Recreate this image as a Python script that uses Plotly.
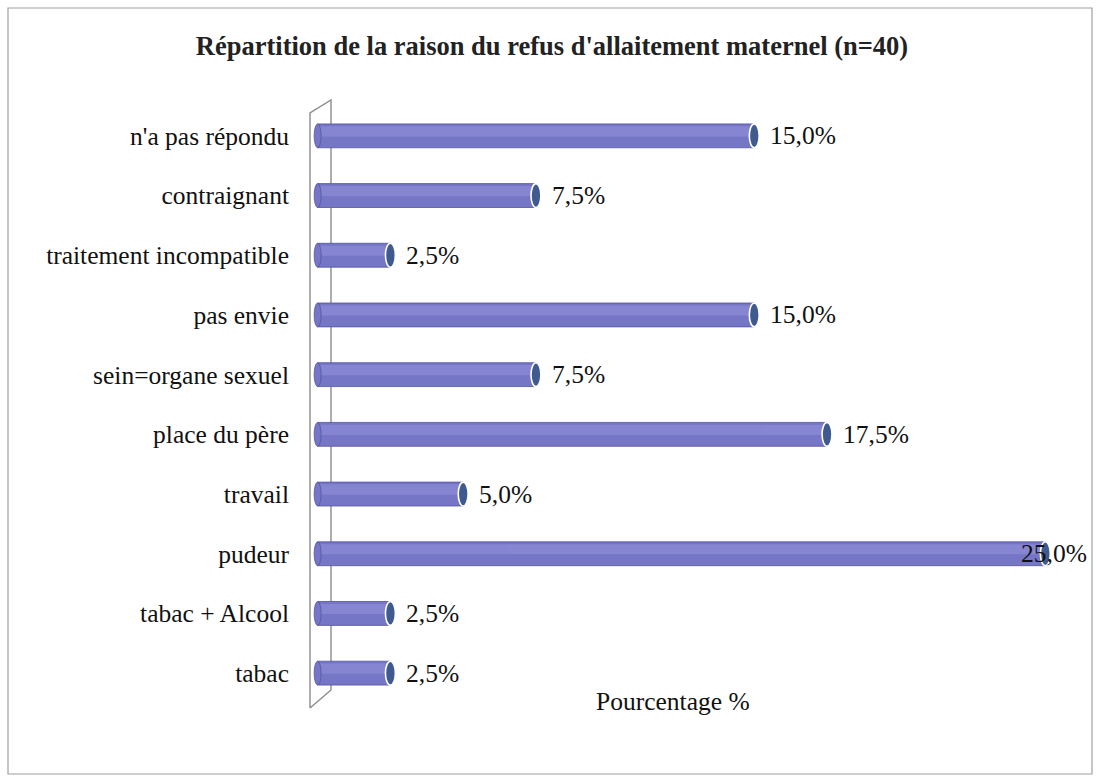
import plotly.graph_objects as go

# Raisons du refus d'allaitement maternel (n=40), en %
categories = [
    "n'a pas répondu",
    "contraignant",
    "traitement incompatible",
    "pas envie",
    "sein=organe sexuel",
    "place du père",
    "travail",
    "pudeur",
    "tabac + Alcool",
    "tabac",
]
percentages = [15.0, 7.5, 2.5, 15.0, 7.5, 17.5, 5.0, 25.0, 2.5, 2.5]

title_text = "Répartition de la raison du refus d'allaitement maternel (n=40)"
axis_title = "Pourcentage %"

W, H = 1096, 776
X_MIN, X_MAX = -0.4, 26.5
ML, MR, MT, MB = 306, 7, 106, 73
plot_w = W - ML - MR
plot_h = H - MT - MB

SERIF = "Liberation Serif, Times New Roman, serif"
TXT = 25.5
BAR_BASE = "#7676C6"
BAR_LIGHT = "#9393DC"
BAR_EDGE = "#5454A0"
CAP_FILL = "#3E5A8E"


def px_x(v):
    return ML + (v - X_MIN) / (X_MAX - X_MIN) * plot_w


def paper_x(p):
    return (p - ML) / plot_w


def paper_y(p):
    return 1 - (p - MT) / plot_h


def fmt(v):
    return f"{v:.1f}".replace(".", ",") + "%"


ypos = list(range(len(categories)))

fig = go.Figure()

# cylinder body
fig.add_trace(go.Bar(
    x=percentages, y=ypos, orientation="h",
    width=0.40, offset=-0.20, base=0,
    marker=dict(color=BAR_BASE, line=dict(color=BAR_EDGE, width=0.8)),
    hoverinfo="skip", showlegend=False,
))
# soft highlight band along the upper side of each cylinder
fig.add_trace(go.Bar(
    x=percentages, y=ypos, orientation="h",
    width=0.17, offset=-0.16, base=0,
    marker=dict(color=BAR_LIGHT, line=dict(width=0)),
    opacity=0.55,
    hoverinfo="skip", showlegend=False,
))

shapes = []
# rounded start and elliptical end cap of each cylinder
for i, v in enumerate(percentages):
    shapes.append(dict(
        type="circle", xref="x", yref="y", layer="above",
        x0=-0.12, x1=0.12, y0=i - 0.20, y1=i + 0.20,
        fillcolor=BAR_BASE, line=dict(color=BAR_EDGE, width=0.8),
    ))
    shapes.append(dict(
        type="circle", xref="x", yref="y", layer="above",
        x0=v - 0.17, x1=v + 0.17, y0=i - 0.20, y1=i + 0.20,
        fillcolor=CAP_FILL, line=dict(color="white", width=1.6),
    ))

# 3D side wall behind the bars
wall_col = "#8C8C8C"
fx0, fx1 = paper_x(310), paper_x(331)
shapes.append(dict(
    type="path", xref="paper", yref="paper", layer="below",
    path=(f"M {fx0},{paper_y(708)} L {fx0},{paper_y(113)} L {fx1},{paper_y(100)} "
          f"L {fx1},{paper_y(690)} L {fx0},{paper_y(708)}"),
    line=dict(color=wall_col, width=1.4),
))

# outer frame of the chart
shapes.append(dict(
    type="rect", xref="paper", yref="paper", layer="below",
    x0=paper_x(8), x1=paper_x(1092), y0=paper_y(774), y1=paper_y(8),
    line=dict(color="#A0A0A0", width=1.2),
))

annotations = []
right_limit = 1089
for i, v in enumerate(percentages):
    label = fmt(v)
    est_w = 66
    start = px_x(v) + 14
    if start + est_w > right_limit:
        annotations.append(dict(
            x=paper_x(right_limit), y=i, xref="paper", yref="y",
            text=label, showarrow=False, xanchor="right", yanchor="middle",
            font=dict(family=SERIF, size=TXT, color="#111111"),
        ))
    else:
        annotations.append(dict(
            x=v, y=i, xref="x", yref="y", xshift=14,
            text=label, showarrow=False, xanchor="left", yanchor="middle",
            font=dict(family=SERIF, size=TXT, color="#111111"),
        ))

annotations.append(dict(
    x=paper_x(673), y=paper_y(701), xref="paper", yref="paper",
    text=axis_title, showarrow=False, xanchor="center", yanchor="middle",
    font=dict(family=SERIF, size=TXT, color="#111111"),
))

fig.update_layout(
    width=W, height=H,
    margin=dict(l=ML, r=MR, t=MT, b=MB),
    paper_bgcolor="white", plot_bgcolor="white",
    barmode="overlay",
    title=dict(
        text=f"<b>{title_text}</b>", xref="container", x=552 / W, xanchor="center",
        yref="container", y=1 - 46 / H, yanchor="middle",
        font=dict(family=SERIF, size=26.5, color="#222222"),
    ),
    xaxis=dict(range=[X_MIN, X_MAX], visible=False, fixedrange=True),
    yaxis=dict(
        range=[len(categories) - 0.5, -0.5],
        tickvals=ypos, ticktext=categories,
        showgrid=False, zeroline=False, showline=False, ticks="",
        ticklabelstandoff=16,
        tickfont=dict(family=SERIF, size=TXT, color="#111111"),
    ),
    shapes=shapes,
    annotations=annotations,
)

fig.write_html("out.html")
